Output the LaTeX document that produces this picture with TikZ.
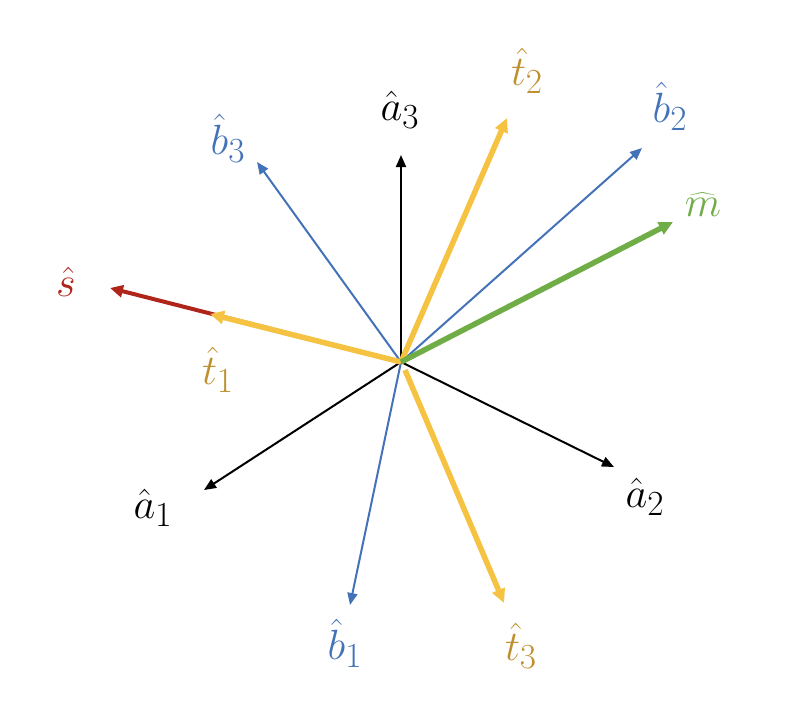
\documentclass[tikz,border=0pt]{standalone}
\usetikzlibrary{arrows.meta}
\definecolor{vyel}{HTML}{F5C242}
\definecolor{vgold}{HTML}{BF9030}
\definecolor{vblue}{HTML}{4472B8}
\definecolor{vgreen}{HTML}{70AD47}
\definecolor{vred}{HTML}{B0251A}
\begin{document}
\begin{tikzpicture}[x=1pt,y=-1pt,
  thinvec/.style={line width=2pt,-{Triangle[length=12pt,width=10pt]}},
  thickvec/.style={line width=5.5pt,-{Triangle[length=14pt,width=13pt]}},
  lbl/.style={font=\fontsize{24.88}{30}\selectfont,inner sep=0pt,scale=1.7}]
\useasboundingbox (0,0) rectangle (808,724);
\coordinate (o) at (401,362);
\coordinate (o3) at (405,370);
\coordinate (ea3) at (401,155);
\coordinate (ea1) at (204,490);
\coordinate (ea2) at (614,467);
\coordinate (eb3) at (257,162);
\coordinate (eb2) at (642,148);
\coordinate (eb1) at (350,605);
\coordinate (et2) at (507,118);
\coordinate (et3) at (504,603);
\coordinate (et1) at (210,314);
\coordinate (es) at (110,288);
\coordinate (em) at (673,222);
% thin black
\draw[thinvec,black] (o) -- (ea3);
\draw[thinvec,black] (o) -- (ea1);
\draw[thinvec,black] (o) -- (ea2);
% blue
\draw[thinvec,vblue] (o) -- (eb3);
\draw[thinvec,vblue] (o) -- (eb2);
\draw[thinvec,vblue] (o) -- (eb1);
% red
\draw[vred,line width=4pt,-{Triangle[length=13pt,width=12pt]}] (o) -- (es);
% yellow
\draw[thickvec,vyel] (o) -- (et1);
\draw[thickvec,vyel] (o) -- (et2);
\draw[thickvec,vyel] (o3) -- (et3);
% green
\draw[thickvec,vgreen] (o) -- (em);
% labels
\node[lbl] (la3) at (400,110) {$\hat{a}_3$};
\node[lbl] (la1) at (153,508) {$\hat{a}_1$};
\node[lbl] (la2) at (645,497) {$\hat{a}_2$};
\node[lbl,text=vblue] (lb3) at (228,138) {$\hat{b}_3$};
\node[lbl,text=vblue] (lb2) at (670,106) {$\hat{b}_2$};
\node[lbl,text=vblue] (lb1) at (345,643) {$\hat{b}_1$};
\node[lbl,text=vgold] (lt2) at (527,71) {$\hat{t}_2$};
\node[lbl,text=vgold] (lt1) at (218,370) {$\hat{t}_1$};
\node[lbl,text=vgold] (lt3) at (521,646) {$\hat{t}_3$};
\node[lbl,text=vred] (ls) at (66,282) {$\hat{s}$};
\node[lbl,text=vgreen] (lm) at (703,205) {$\widehat{m}$};
\end{tikzpicture}
\end{document}
